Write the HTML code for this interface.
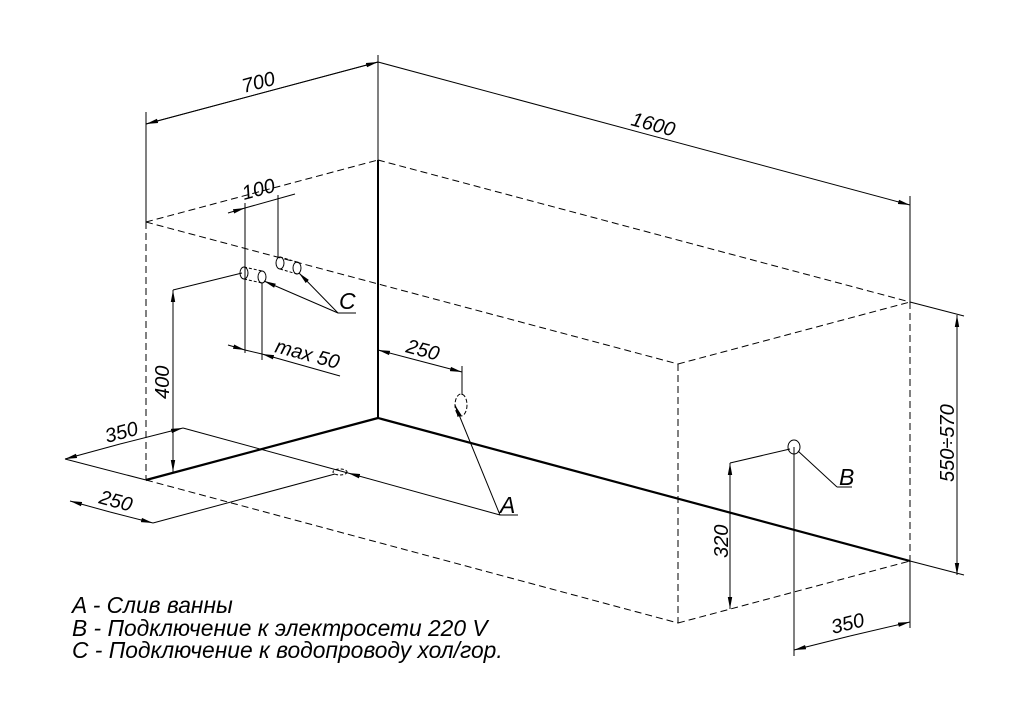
<!DOCTYPE html>
<html><head><meta charset="utf-8"><style>
html,body{margin:0;padding:0;background:#fff;}
svg{display:block;}
text{font-family:"Liberation Sans",sans-serif;font-style:italic;fill:#000;}
</style></head><body>
<svg width="1024" height="720" viewBox="0 0 1024 720" xmlns="http://www.w3.org/2000/svg">
<defs>
<marker id="ar" viewBox="0 0 12 6" refX="12" refY="3" markerWidth="12" markerHeight="6" orient="auto" markerUnits="userSpaceOnUse">
<path d="M0,0.8 L12,3 L0,5.2 z" fill="#000"/></marker>
</defs>
<g fill="none" stroke="#000" stroke-width="1">
<g stroke-dasharray="7,4">
<line x1="146" y1="222" x2="378" y2="160"/>
<line x1="378" y1="160" x2="910" y2="302"/>
<line x1="146" y1="222" x2="678" y2="364"/>
<line x1="678" y1="364" x2="910" y2="302"/>
<line x1="146" y1="222" x2="146" y2="480"/>
<line x1="678" y1="364" x2="678" y2="623"/>
<line x1="910" y1="302" x2="910" y2="561"/>
<line x1="146" y1="480" x2="678" y2="623"/>
<line x1="678" y1="623" x2="910" y2="561"/>
</g>
<line x1="378" y1="160" x2="378" y2="418" stroke-width="2"/>
<line x1="146" y1="480" x2="378" y2="418" stroke-width="2.2"/>
<line x1="378" y1="418" x2="910" y2="561" stroke-width="2.2"/>
<line x1="146" y1="112" x2="146" y2="222"/>
<line x1="378" y1="55" x2="378" y2="160"/>
<line x1="910" y1="196" x2="910" y2="302"/>
<line x1="910" y1="561" x2="910" y2="628"/>
<line x1="378" y1="62" x2="146" y2="124" marker-end="url(#ar)"/>
<line x1="146" y1="124" x2="378" y2="62" marker-end="url(#ar)"/>
<line x1="378" y1="62" x2="910" y2="205" marker-end="url(#ar)"/>
<line x1="910" y1="302" x2="964" y2="316"/>
<line x1="910" y1="561" x2="964" y2="575"/>
<line x1="957" y1="445" x2="957" y2="315" marker-end="url(#ar)"/>
<line x1="957" y1="445" x2="957" y2="575" marker-end="url(#ar)"/>
<ellipse cx="794" cy="447" rx="6" ry="7"/>
<line x1="794" y1="447" x2="794" y2="656"/>
<line x1="798" y1="451" x2="837" y2="487"/>
<line x1="837" y1="487" x2="852" y2="487"/>
<line x1="730" y1="463" x2="790" y2="449"/>
<line x1="730" y1="540" x2="730" y2="463" marker-end="url(#ar)"/>
<line x1="730" y1="540" x2="730" y2="609" marker-end="url(#ar)"/>
<line x1="850" y1="636" x2="794" y2="650" marker-end="url(#ar)"/>
<line x1="850" y1="636" x2="910" y2="622" marker-end="url(#ar)"/>
<line x1="420" y1="361" x2="378" y2="350" marker-end="url(#ar)"/>
<line x1="420" y1="361" x2="462" y2="372" marker-end="url(#ar)"/>
<line x1="462" y1="366" x2="462" y2="395"/>
<ellipse cx="461" cy="405" rx="6" ry="11" stroke-dasharray="4,2"/>
<line x1="500" y1="515" x2="455" y2="405" marker-end="url(#ar)"/>
<line x1="500" y1="515" x2="518" y2="515"/>
<line x1="120" y1="444" x2="65" y2="459" marker-end="url(#ar)"/>
<line x1="120" y1="444" x2="183" y2="428" marker-end="url(#ar)"/>
<line x1="65" y1="459" x2="146" y2="480"/>
<line x1="500" y1="515" x2="348" y2="473" marker-end="url(#ar)"/>
<line x1="348" y1="473" x2="183" y2="428"/>
<ellipse cx="340" cy="472" rx="7" ry="3" stroke-dasharray="3,2"/>
<line x1="110" y1="512" x2="70" y2="501" marker-end="url(#ar)"/>
<line x1="110" y1="512" x2="153" y2="523" marker-end="url(#ar)"/>
<line x1="153" y1="523" x2="335" y2="474"/>
<line x1="173" y1="290" x2="242" y2="273"/>
<line x1="173" y1="380" x2="173" y2="290" marker-end="url(#ar)"/>
<line x1="173" y1="380" x2="173" y2="472" marker-end="url(#ar)"/>
<ellipse cx="244" cy="273" rx="4" ry="6"/>
<ellipse cx="262" cy="277" rx="4" ry="6"/>
<line x1="244" y1="267" x2="262" y2="271" stroke-dasharray="3,2"/>
<line x1="244" y1="279" x2="262" y2="283" stroke-dasharray="3,2"/>
<ellipse cx="280" cy="263" rx="4" ry="6"/>
<ellipse cx="297" cy="268" rx="4" ry="6"/>
<line x1="280" y1="257" x2="297" y2="262" stroke-dasharray="3,2"/>
<line x1="280" y1="269" x2="297" y2="274" stroke-dasharray="3,2"/>
<line x1="245" y1="203" x2="245" y2="353"/>
<line x1="262" y1="283" x2="262" y2="360"/>
<line x1="278" y1="195" x2="278" y2="257"/>
<line x1="228" y1="213" x2="245" y2="208" marker-end="url(#ar)"/>
<line x1="245" y1="208" x2="295" y2="194"/>
<line x1="228" y1="345" x2="245" y2="350" marker-end="url(#ar)"/>
<line x1="245" y1="350" x2="262" y2="354"/>
<line x1="340" y1="376" x2="262" y2="354" marker-end="url(#ar)"/>
<line x1="338" y1="313" x2="264" y2="281" marker-end="url(#ar)"/>
<line x1="338" y1="313" x2="299" y2="273" marker-end="url(#ar)"/>
<line x1="338" y1="313" x2="356" y2="313"/>
</g>
<g font-size="20">
<text transform="translate(244,93) rotate(-15)">700</text>
<text transform="translate(630,125) rotate(15)">1600</text>
<text transform="translate(954,482) rotate(-90)">550÷570</text>
<text transform="translate(728,558) rotate(-90)">320</text>
<text transform="translate(833,634) rotate(-14)">350</text>
<text transform="translate(405,352) rotate(15)">250</text>
<text transform="translate(107,443) rotate(-15)">350</text>
<text transform="translate(98,503) rotate(15)">250</text>
<text transform="translate(169,399) rotate(-90)">400</text>
<text transform="translate(244,200) rotate(-15)">100</text>
<text transform="translate(274,352) rotate(15)">max 50</text>
</g>
<g font-size="23">
<text x="339" y="309">C</text>
<text x="500" y="513">A</text>
<text x="839" y="485">B</text>
</g>
<g font-size="22.8">
<text x="72" y="613">A - Слив ванны</text>
<text x="72" y="636">B - Подключение к электросети 220 V</text>
<text x="72" y="658">C - Подключение к водопроводу хол/гор.</text>
</g>
</svg>
</body></html>
